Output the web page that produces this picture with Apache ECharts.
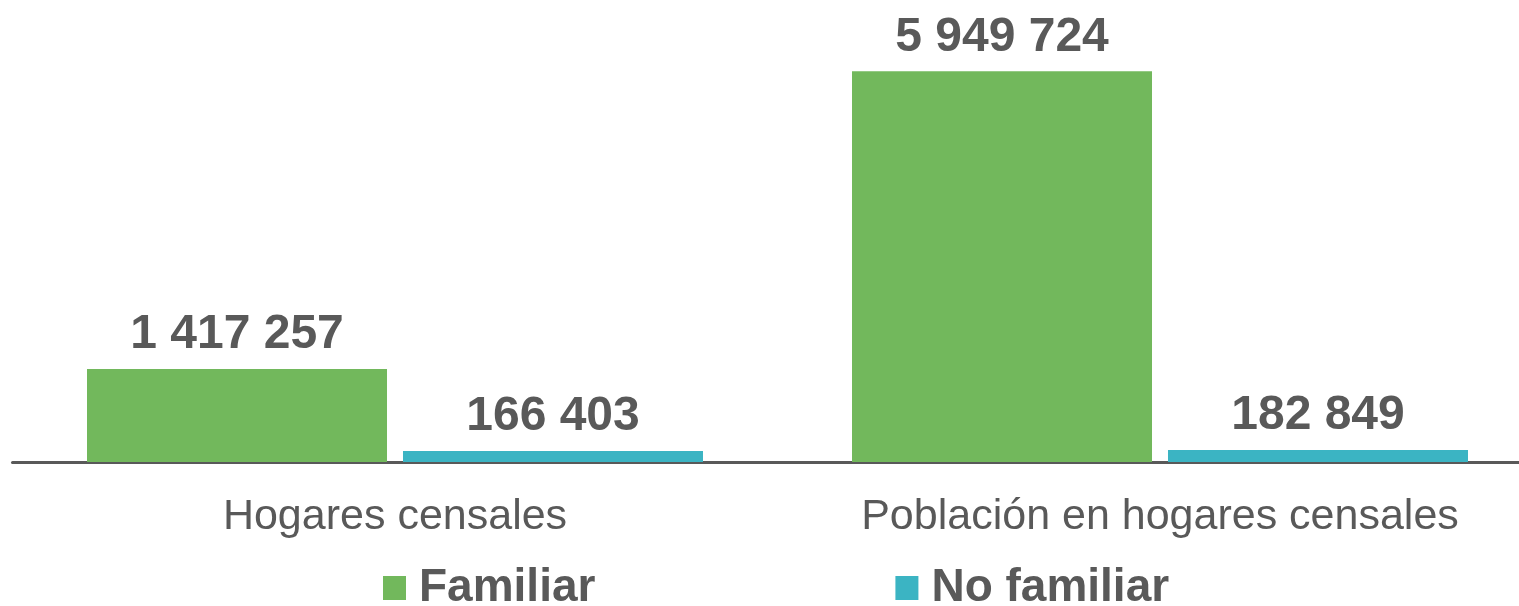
<!DOCTYPE html>
<html>
<head>
<meta charset="utf-8">
<script src="https://cdn.jsdelivr.net/npm/echarts@6/dist/echarts.min.js"></script>
<style>
html,body{margin:0;padding:0;background:#fff;}
#chart{width:1519px;height:606px;}
</style>
</head>
<body>
<div id="chart"></div>
<script>
const categories = ['Hogares censales', 'Población en hogares censales'];
const seriesNames = ['Familiar', 'No familiar'];
const familiar = [1417257, 5949724];
const noFamiliar = [166403, 182849];
const colors = ['#72B85C', '#3BB4C3'];

function fmt(v) {
  return String(v).replace(/\B(?=(\d{3})+(?!\d))/g, ' ');
}

const chart = echarts.init(document.getElementById('chart'));
const labelCfg = {
  show: true,
  position: 'top',
  distance: 10,
  fontFamily: 'Liberation Sans, Arial, sans-serif',
  fontWeight: 'bold',
  fontSize: 48,
  color: '#595959',
  formatter: p => fmt(p.value)
};
chart.setOption({
  animation: false,
  backgroundColor: '#ffffff',
  grid: { left: 12.5, width: 1530, top: 68, bottom: 144, containLabel: false, outerBoundsMode: 'none' },
  legend: {
    data: seriesNames,
    left: 383,
    top: 565,
    padding: 0,
    icon: 'rect',
    itemWidth: 23,
    itemHeight: 24,
    itemGap: 300,
    textStyle: {
      fontFamily: 'Liberation Sans, Arial, sans-serif',
      fontWeight: 'bold',
      fontSize: 46,
      color: '#595959',
      padding: [0, 0, 0, 8]
    }
  },
  xAxis: {
    type: 'category',
    data: categories,
    axisLine: { show: true, lineStyle: { color: '#595959', width: 3 } },
    axisTick: { show: false },
    axisLabel: {
      interval: 0,
      hideOverlap: false,
      margin: 34,
      fontFamily: 'Liberation Sans, Arial, sans-serif',
      fontSize: 43,
      color: '#595959'
    }
  },
  yAxis: {
    type: 'value',
    min: 0,
    max: 6000000,
    show: false,
    splitLine: { show: false }
  },
  series: [
    {
      name: seriesNames[0],
      type: 'bar',
      data: familiar,
      barWidth: 300,
      barGap: '5.33%',
      itemStyle: { color: colors[0] },
      label: labelCfg
    },
    {
      name: seriesNames[1],
      type: 'bar',
      data: noFamiliar,
      barWidth: 300,
      barGap: '5.33%',
      itemStyle: { color: colors[1] },
      label: labelCfg
    }
  ]
});
</script>
</body>
</html>
